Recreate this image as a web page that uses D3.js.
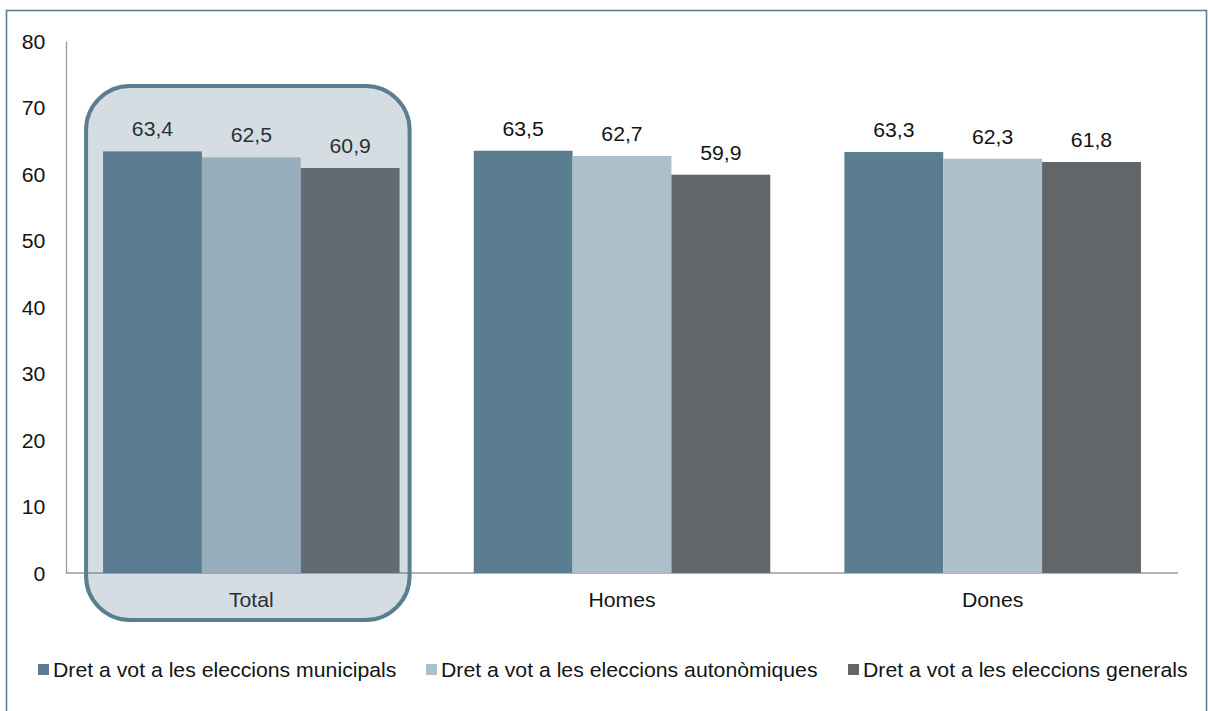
<!DOCTYPE html>
<html><head><meta charset="utf-8">
<script src="https://cdn.jsdelivr.net/npm/d3@7"></script>
<style>body{margin:0;background:#fff}svg{display:block}text{font-family:Arial,"Liberation Sans",sans-serif;fill:#141414}</style>
</head><body><svg id="c" width="1208" height="711"></svg>
<script>
const categories = ["Total", "Homes", "Dones"];
const seriesNames = ["Dret a vot a les eleccions municipals", "Dret a vot a les eleccions autonòmiques", "Dret a vot a les eleccions generals"];
const municipals = [63.4, 63.5, 63.3];
const autonomiques = [62.5, 62.7, 62.3];
const generals = [60.9, 59.9, 61.8];
const yTicks = [0, 10, 20, 30, 40, 50, 60, 70, 80];
const colors = ["#5B7D90", "#ADBFCA", "#636668"];
const highlight = "Total";

const values = [municipals, autonomiques, generals];
const svg = d3.select("#c");
const plotL = 66, plotR = 1178, plotT = 41, plotB = 573;
const SX = 1.09, FS = 19.5;

svg.append("rect").attr("x", 6.5).attr("y", 10.5).attr("width", 1200).attr("height", 720)
  .attr("fill", "none").attr("stroke", "#5E7F92").attr("stroke-width", 1.6);

const y = d3.scaleLinear().domain([0, 80]).range([plotB, plotT]);
const x0 = d3.scaleBand().domain(categories).range([plotL, plotR]).paddingInner(0.2).paddingOuter(0.1);
const x1 = d3.scaleBand().domain(d3.range(seriesNames.length)).range([0, x0.bandwidth()]);

// axes
const yAxis = d3.axisLeft(y).tickValues(yTicks).tickSize(0).tickPadding(19);
const gy = svg.append("g").attr("transform", `translate(${plotL},0)`).call(yAxis);
gy.select(".domain").attr("stroke", "#9a9a9a").attr("stroke-width", 1.3);
gy.selectAll("text").attr("font-size", FS).attr("dy", "0.36em").attr("transform", `scale(${SX},1)`);

const xAxis = d3.axisBottom(x0).tickSize(0).tickPadding(0);
const gx = svg.append("g").attr("transform", `translate(0,${plotB})`).call(xAxis);
gx.select(".domain").attr("stroke", "#9a9a9a").attr("stroke-width", 1.3).attr("d", `M${plotL},0H${plotR}`);
gx.selectAll("text").attr("font-size", FS).attr("y", 34).attr("dy", null).attr("transform", `scale(${SX},1)`);

// bars
const groups = svg.append("g").selectAll("g").data(categories).join("g")
  .attr("transform", d => `translate(${x0(d)},0)`);
groups.selectAll("rect").data((c, ci) => values.map((s, si) => ({si, v: s[ci]}))).join("rect")
  .attr("x", d => x1(d.si)).attr("width", x1.bandwidth())
  .attr("y", d => y(d.v)).attr("height", d => y(0) - y(d.v))
  .attr("fill", d => colors[d.si]);

// highlight box
const hx = x0(highlight);
svg.append("rect")
  .attr("x", hx - 17).attr("y", 86).attr("width", x0.bandwidth() + 27).attr("height", 534)
  .attr("rx", 44).attr("ry", 44)
  .attr("fill", "#5B7D91").attr("fill-opacity", 0.26)
  .attr("stroke", "#5B7D91").attr("stroke-width", 4);

// value labels
groups.selectAll("g.v").data((c, ci) => values.map((s, si) => ({si, v: s[ci]}))).join("g")
  .attr("class", "v")
  .attr("transform", d => `translate(${x1(d.si) + x1.bandwidth() / 2},${y(d.v) - 15}) scale(${SX},1)`)
  .append("text")
  .attr("text-anchor", "middle").attr("font-size", FS)
  .text(d => d3.format(".1f")(d.v).replace(".", ","));

// legend
const legendX = [38, 426, 848];
const lg = svg.append("g").selectAll("g").data(seriesNames).join("g")
  .attr("transform", (d, i) => `translate(${legendX[i]},664)`);
lg.append("rect").attr("width", 11).attr("height", 11).attr("fill", (d, i) => colors[i]);
lg.append("text").attr("transform", `translate(15,13) scale(${SX},1)`).attr("font-size", FS).text(d => d);
</script></body></html>
